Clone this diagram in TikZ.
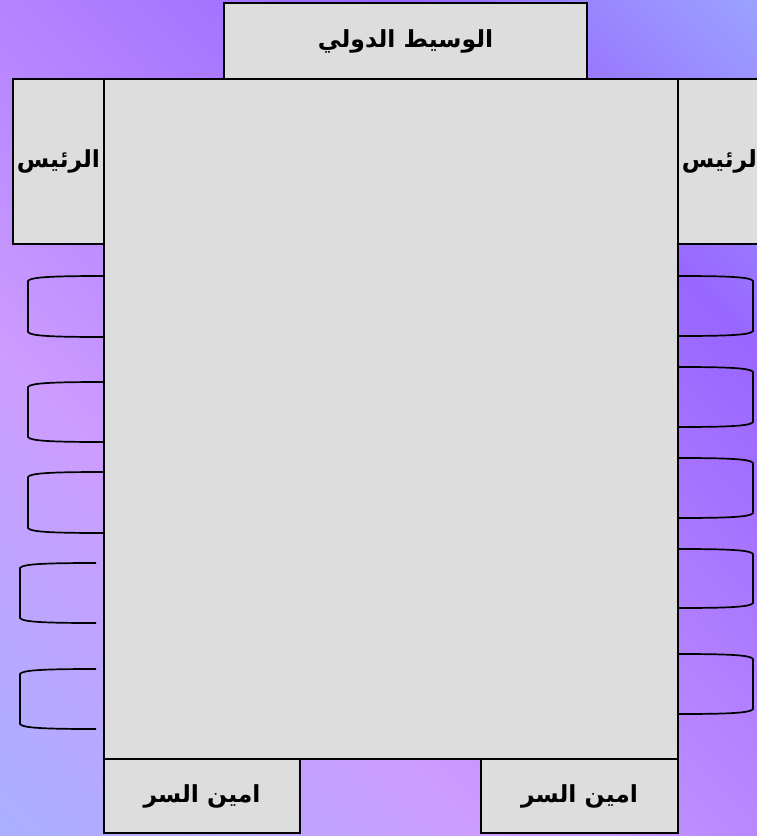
\documentclass[tikz,border=0pt]{standalone}
\usepackage{fontspec}
\usepackage{tikz}
\usetikzlibrary{positioning}
\TeXXeTstate=1
\newfontfamily\arabicfont[Script=Arabic]{DejaVu Sans}

\definecolor{boxgray}{HTML}{DDDDDD}
\definecolor{bgA}{HTML}{AAB0FF}
\definecolor{bgB}{HTML}{CC9CFF}
\definecolor{bgC}{HTML}{9966FF}
\definecolor{bgD}{HTML}{9AA2FF}
\pgfdeclarehorizontalshading{roomshade}{100bp}{color(0bp)=(bgA); color(14.6bp)=(bgA); color(35.9bp)=(bgB); color(69.8bp)=(bgC); color(85.4bp)=(bgD); color(100bp)=(bgD)}

\begin{document}
\begin{tikzpicture}[
    x=1pt, y=-1pt,
    box/.style={draw, fill=boxgray, line width=1.5pt, inner sep=0pt, outer sep=0pt,
        font=\arabicfont\bfseries\fontsize{23.5}{28}\selectfont},
    chair/.style={draw, line width=1.7pt}
]
\clip (0,0) rectangle (757,836);
\shade[shading=roomshade, shading angle=45] (0,0) rectangle (757,836);

% chairs along the long sides
\foreach \t/\b/\f/\n in {276/337/28/104, 382/442/28/104, 472/533/28/104, 563/623/20/96, 669/729/20/96}
    \draw[chair] (\n,\t) .. controls (\f+25,\t) and (\f+2,\t+1) .. (\f,\t+5) -- (\f,\b-5)
        .. controls (\f+2,\b-1) and (\f+25,\b) .. (\n,\b);
\foreach \t/\b in {276/336, 367/427, 458/518, 549/608, 654/714}
    \draw[chair] (678,\t) .. controls (728,\t) and (751,\t+1) .. (753,\t+5) -- (753,\b-5)
        .. controls (751,\b-1) and (728,\b) .. (678,\b);

\node[box, minimum width=574pt, minimum height=680pt, anchor=north west] (table) at (104,79) {};
\node[box, minimum width=363pt, minimum height=76pt, anchor=south west] (mediator)
    at ([xshift=120pt]table.north west) {\beginR الوسيط الدولي\endR};
\node[box, minimum width=91pt, minimum height=165pt, anchor=north east] (presL)
    at (table.north west) {\beginR الرئيس\endR};
\node[box, minimum width=91pt, minimum height=165pt, anchor=north west] (presR)
    at (table.north east) {\beginR الرئيس\endR};
\node[box, minimum width=196pt, minimum height=74pt, anchor=north west] (secL)
    at (table.south west) {\beginR امين السر\endR};
\node[box, minimum width=197pt, minimum height=74pt, anchor=north east] (secR)
    at (table.south east) {\beginR امين السر\endR};
\end{tikzpicture}
\end{document}
